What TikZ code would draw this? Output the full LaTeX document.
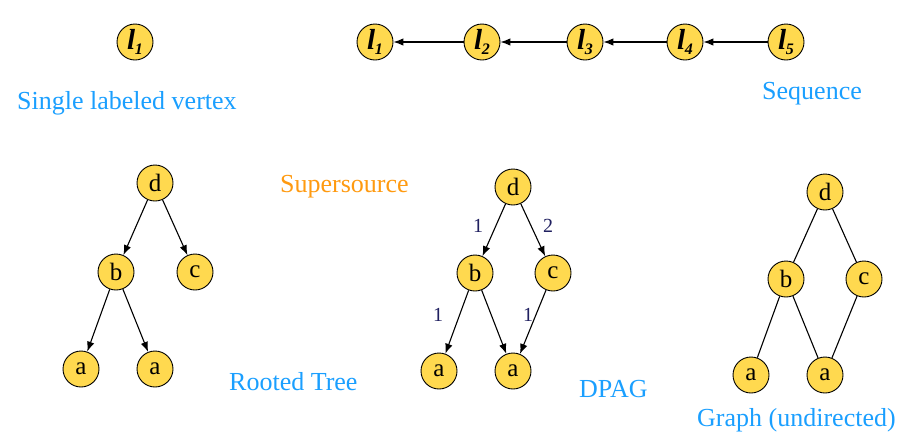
\documentclass[tikz,border=0pt]{standalone}
\usepackage{fontspec}
\setmainfont{Liberation Serif}
\usetikzlibrary{arrows.meta}
\definecolor{nodefill}{HTML}{FFD94F}
\definecolor{capblue}{HTML}{1A9FFF}
\definecolor{caporange}{HTML}{FF9A10}
\definecolor{lblnavy}{HTML}{202060}
\tikzset{
  vtx/.style={circle,draw=black,line width=0.9pt,fill=nodefill,minimum size=36pt,inner sep=0pt,font=\fontsize{25}{25}\selectfont},
  capb/.style={text=capblue,font=\fontsize{26}{30}\selectfont,inner sep=0pt},
  capo/.style={text=caporange,font=\fontsize{26}{30}\selectfont,inner sep=0pt},
  arr/.style={-{Latex[length=10pt,width=7.5pt]},line width=1.1pt},
  und/.style={line width=1.1pt},
  elbl/.style={text=lblnavy,font=\fontsize{20}{20}\selectfont,inner sep=0pt}
}
\newcommand{\lsub}[1]{{\fontsize{29}{29}\selectfont\bfseries\itshape l\kern-0.5pt\raisebox{-0.35ex}{\fontsize{16}{16}\selectfont\bfseries\itshape #1}}}
\begin{document}
\begin{tikzpicture}[x=1pt,y=-1pt]
\useasboundingbox (0,0) rectangle (907,440);
% single vertex
\node[vtx] (s1) at (135,42) {\lsub{1}};
\node[capb,anchor=base west] (cap1) at (17,109) {Single labeled vertex};
% sequence
\node[vtx] (q1) at (375,42) {\lsub{1}};
\node[vtx] (q2) at (482,42) {\lsub{2}};
\node[vtx] (q3) at (585,42) {\lsub{3}};
\node[vtx] (q4) at (685,42) {\lsub{4}};
\node[vtx] (q5) at (786,42) {\lsub{5}};
\draw[arr] (q5) -- (q4);
\draw[arr] (q4) -- (q3);
\draw[arr] (q3) -- (q2);
\draw[arr] (q2) -- (q1);
\node[capb,anchor=base west] (cap2) at (762,99) {Sequence};
% rooted tree
\node[vtx] (td) at (155,183) {d};
\node[vtx] (tb) at (116,272) {b};
\node[vtx] (tc) at (195,272) {c};
\node[vtx] (ta1) at (81,369) {a};
\node[vtx] (ta2) at (155,369) {a};
\draw[arr] (td) -- (tb);
\draw[arr] (td) -- (tc);
\draw[arr] (tb) -- (ta1);
\draw[arr] (tb) -- (ta2);
\node[capb,anchor=base west] (cap3) at (229,390) {Rooted Tree};
% DPAG
\node[capo,anchor=base west] (cap4) at (280,192) {Supersource};
\node[vtx] (pd) at (513,187) {d};
\node[vtx] (pb) at (475,273) {b};
\node[vtx] (pc) at (553,273) {c};
\node[vtx] (pa1) at (439,371) {a};
\node[vtx] (pa2) at (513,371) {a};
\draw[arr] (pd) -- (pb);
\draw[arr] (pd) -- (pc);
\draw[arr] (pb) -- (pa1);
\draw[arr] (pb) -- (pa2);
\draw[arr] (pc) -- (pa2);
\node[elbl] (l1) at (478,226) {1};
\node[elbl] (l2) at (548,226) {2};
\node[elbl] (l3) at (438,315) {1};
\node[elbl] (l4) at (528,315) {1};
\node[capb,anchor=base west] (cap5) at (579,397) {DPAG};
% undirected graph
\node[vtx] (gd) at (825,192) {d};
\node[vtx] (gb) at (786,279) {b};
\node[vtx] (gc) at (864,279) {c};
\node[vtx] (ga1) at (751,375) {a};
\node[vtx] (ga2) at (825,375) {a};
\draw[und] (gd) -- (gb);
\draw[und] (gd) -- (gc);
\draw[und] (gb) -- (ga1);
\draw[und] (gb) -- (ga2);
\draw[und] (gc) -- (ga2);
\node[capb,anchor=base west] (cap6) at (697,426) {Graph (undirected)};
\end{tikzpicture}
\end{document}
